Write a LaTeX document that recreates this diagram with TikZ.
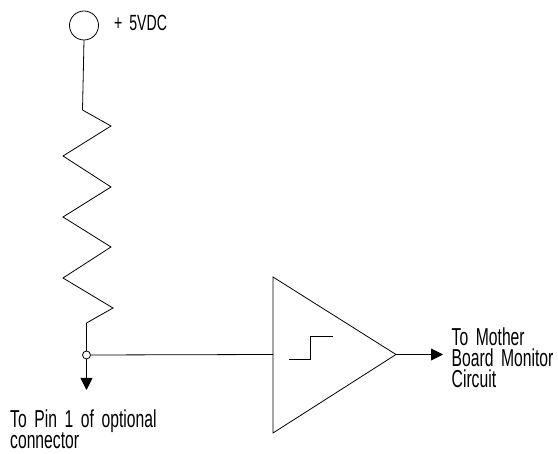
\documentclass[tikz,border=0pt]{standalone}
\usepackage{fontspec}
\setmainfont{Liberation Sans}[FakeStretch=0.64, WordSpace=1.75]
\usetikzlibrary{arrows.meta}
\tikzset{
  wire/.style={line width=0.8pt, line join=miter},
  lbl/.style={inner sep=0pt, font=\fontsize{24.5}{21}\selectfont, align=left},
  smalllbl/.style={inner sep=0pt, font=\fontsize{22}{22}\selectfont},
  tip/.style={-{Triangle[length=12pt,width=12pt]}}
}
\begin{document}
\begin{tikzpicture}[x=1pt,y=-1pt]
\useasboundingbox (0,0) rectangle (558,454);
% supply terminal
\node[draw, circle, wire, minimum size=29pt, inner sep=0pt] (vcc) at (84,25.5) {};
\node[smalllbl, anchor=base west] (vlbl) at (114,30.5) {+\hspace{7pt}5VDC};
% resistor
\coordinate (rtop) at (82.5,110);
\coordinate (rbot) at (86.5,323);
\draw[wire] (vcc.south) -- (rtop) -- (111,126) -- (63,156) -- (111,187) -- (63,217)
  -- (111,247) -- (63,278) -- (113,308) -- (rbot);
% junction
\node[draw, circle, wire, minimum size=8pt, inner sep=0pt, fill=white] (junc) at (86.5,355) {};
\draw[wire] (rbot) -- (junc.north);
\coordinate (pin) at (86.5,390);
\draw[wire, tip] (junc.south) -- (pin);
\node[lbl, anchor=base west] (pinlbl) at (10,448.5) {To Pin 1 of optional\\connector};
% comparator
\coordinate (tl) at (273,277);
\coordinate (bl) at (273,433);
\coordinate (out) at (396,354.5);
\coordinate (in) at (273,354.5);
\draw[wire] (tl) -- (out) -- (bl) -- cycle;
\draw[wire] (junc.east) -- (in);
\draw[wire] (289,359) -- (310,359) -- (310,336) -- (333,336);
\coordinate (mb) at (443,354.5);
\draw[wire, tip] (out) -- (mb);
\node[lbl, anchor=base west] (mblbl) at (451.5,387.5) {To Mother\\Board Monitor\\Circuit};
\end{tikzpicture}
\end{document}
